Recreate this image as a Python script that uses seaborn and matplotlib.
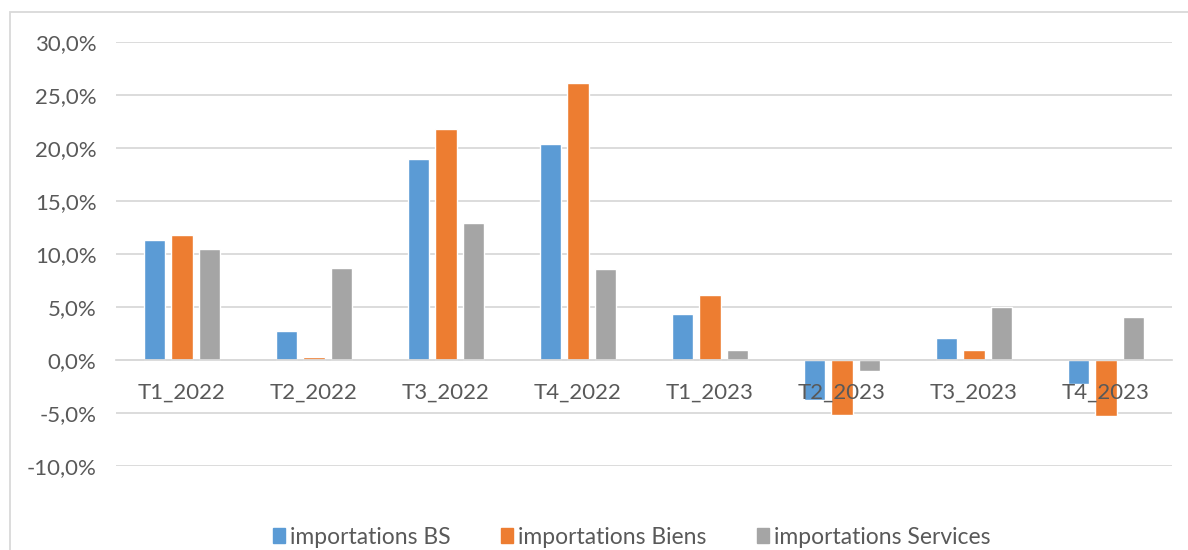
import matplotlib
matplotlib.use("Agg")
import matplotlib.pyplot as plt
import matplotlib.patches as mpatches
import seaborn as sns
import pandas as pd

# ------------------------
# Data
# ------------------------

quarters = ["T1_2022", "T2_2022", "T3_2022", "T4_2022",
            "T1_2023", "T2_2023", "T3_2023", "T4_2023"]
series_names = ["importations BS", "importations Biens", "importations Services"]
imports_bs = [11.3, 2.7, 19.0, 20.4, 4.3, -3.8, 2.1, -2.3]
imports_biens = [11.8, 0.25, 21.8, 26.1, 6.1, -5.2, 0.9, -5.3]
imports_services = [10.5, 8.7, 12.9, 8.6, 0.9, -1.0, 5.0, 4.1]
y_ticks = [-10, -5, 0, 5, 10, 15, 20, 25, 30]
colors = ["#5B9BD5", "#ED7D31", "#A5A5A5"]

df = pd.DataFrame({
    "Trimestre": quarters * 3,
    "Serie": [s for s in series_names for _ in quarters],
    "Valeur": imports_bs + imports_biens + imports_services,
})

# ------------------------
# Plotting
# ------------------------

sns.set_style("white")
plt.rcParams["font.family"] = ["Lato", "DejaVu Sans"]
text_color = "#595959"
grid_color = "#D9D9D9"

fig = plt.figure(figsize=(11.88, 5.5), dpi=100)
ax = fig.add_axes([116 / 1188, 1 - 466 / 550, (1172 - 116) / 1188, (466 - 42) / 550])

sns.barplot(data=df, x="Trimestre", y="Valeur", hue="Serie", order=quarters,
            hue_order=series_names, palette=colors, width=0.62, gap=0.22,
            saturation=1, errorbar=None, ax=ax, zorder=3)

ax.set_ylim(-10, 30)
ax.set_xlim(-0.5, len(quarters) - 0.5)
ax.set_yticks(y_ticks)
ax.set_yticklabels([f"{v:.1f}%".replace(".", ",") for v in y_ticks])
ax.yaxis.grid(True, color=grid_color, linewidth=1.3)
ax.set_axisbelow(True)
# category labels sit on top of the bars, like in the spreadsheet
ax.xaxis.set_zorder(5)

for side in ["top", "right", "left"]:
    ax.spines[side].set_visible(False)
ax.spines["bottom"].set_position(("data", 0))
ax.spines["bottom"].set_color(grid_color)
ax.spines["bottom"].set_linewidth(1.3)
ax.spines["bottom"].set_zorder(4)

ax.tick_params(axis="both", length=0, labelsize=16, labelcolor=text_color)
ax.tick_params(axis="x", pad=16)
ax.tick_params(axis="y", pad=14)
ax.set_xlabel("")
ax.set_ylabel("")

handles = [mpatches.Patch(color=c, label=n) for c, n in zip(colors, series_names)]
ax.get_legend().remove()
fig.legend(handles=handles, loc="center", bbox_to_anchor=(632 / 1188, 1 - 537 / 550),
           ncol=3, frameon=False, fontsize=16.5, handlelength=0.5, handleheight=0.6,
           handletextpad=0.25, columnspacing=2.2, labelcolor=text_color)

# chart frame like the spreadsheet export
frame = mpatches.Rectangle((9.5 / 1188, -0.1), 1.2, 1 - 12.5 / 550 + 0.1,
                           transform=fig.transFigure, fill=False,
                           edgecolor="#D9D9D9", linewidth=1.3)
fig.patches.append(frame)

fig.savefig("out.png", dpi=100)
plt.close(fig)
